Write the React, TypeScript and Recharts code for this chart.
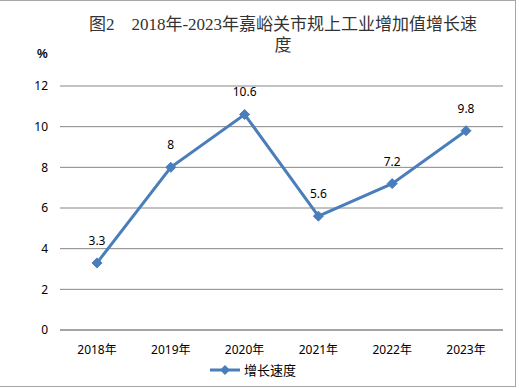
import React from "react";
import { LineChart, Line, XAxis, YAxis, CartesianGrid, LabelList } from "recharts";

const years = ["2018年", "2019年", "2020年", "2021年", "2022年", "2023年"];
const growth = [3.3, 8, 10.6, 5.6, 7.2, 9.8];
const yTicks = [0, 2, 4, 6, 8, 10, 12];
const seriesName = "增长速度";

const data = years.map((year, i) => ({ year, value: growth[i] }));

const LINE = "#4a7ebb";
const GRID = "#868686";
const FONT = "'Noto Sans', 'Noto Sans CJK SC', sans-serif";

const Diamond = (props: any) => {
  const { cx, cy } = props;
  if (cx == null || cy == null) return null;
  const r = 5;
  return (
    <path
      d={`M${cx},${cy - r}L${cx + r},${cy}L${cx},${cy + r}L${cx - r},${cy}Z`}
      fill={LINE}
      stroke={LINE}
    />
  );
};

export default function App() {
  return (
    <div style={{ position: "absolute", left: 0, top: 0, width: 519, height: 388, background: "#fff" }}>
      <div
        style={{
          position: "absolute",
          left: 0,
          top: 0,
          width: 515,
          height: 385,
          borderTop: "1px solid #a6a6a6",
          borderRight: "1px solid #a6a6a6",
          borderBottom: "1px solid #a6a6a6",
        }}
      />
      <div
        style={{
          position: "absolute",
          left: 73,
          top: 14,
          width: 420,
          textAlign: "center",
          fontFamily: "'Liberation Serif', 'Noto Sans CJK SC', serif",
          fontSize: 17,
          lineHeight: "21px",
          color: "#333",
          whiteSpace: "nowrap",
        }}
      >
        <div>图2　2018年-2023年嘉峪关市规上工业增加值增长速</div>
        <div>度</div>
      </div>
      <div
        style={{
          position: "absolute",
          left: 37,
          top: 47,
          fontFamily: "'Liberation Sans', sans-serif",
          fontWeight: "bold",
          fontSize: 12,
          color: "#000",
        }}
      >
        %
      </div>
      <LineChart
        width={519}
        height={388}
        data={data}
        margin={{ top: 86, right: 16, bottom: 28, left: 0 }}
        style={{ position: "absolute", left: 0, top: 0 }}
      >
        <CartesianGrid vertical={false} stroke={GRID} strokeWidth={1} />
        <XAxis
          dataKey="year"
          height={30}
          padding={{ left: 37, right: 37 }}
          axisLine={{ stroke: GRID }}
          tickLine={false}
          tickMargin={9}
          tick={{ fontSize: 12, fill: "#000", fontFamily: FONT }}
          interval={0}
        />
        <YAxis
          width={60}
          domain={[0, 12]}
          ticks={yTicks}
          axisLine={false}
          tickLine={false}
          tickMargin={6}
          tick={{ fontSize: 12, fill: "#000", fontFamily: FONT }}
        />
        <Line
          type="linear"
          dataKey="value"
          name={seriesName}
          stroke={LINE}
          strokeWidth={3}
          dot={<Diamond />}
          activeDot={false}
          isAnimationActive={false}
        >
          <LabelList
            dataKey="value"
            position="top"
            offset={18}
            style={{ fontSize: 12, fill: "#000", fontFamily: FONT }}
          />
        </Line>
      </LineChart>
      <div
        style={{
          position: "absolute",
          left: 209,
          top: 360,
          display: "flex",
          alignItems: "center",
          fontFamily: FONT,
          fontSize: 13,
          color: "#000",
        }}
      >
        <svg width={32} height={12}>
          <line x1={1} y1={6} x2={31} y2={6} stroke={LINE} strokeWidth={3} />
          <path d="M16,1L21,6L16,11L11,6Z" fill={LINE} />
        </svg>
        <span style={{ marginLeft: 3 }}>{seriesName}</span>
      </div>
    </div>
  );
}
